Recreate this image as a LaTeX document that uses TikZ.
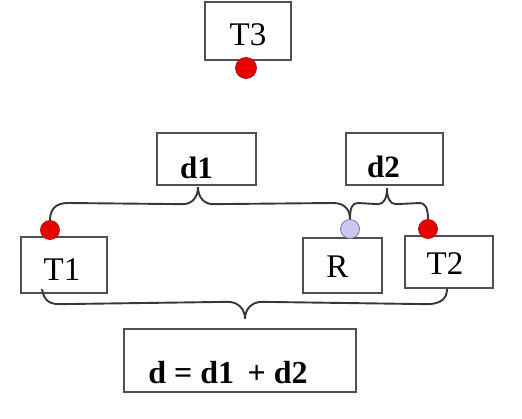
\documentclass[tikz,border=0pt]{standalone}
\usepackage{fontspec}
\setmainfont{Liberation Serif}
\usetikzlibrary{calc}
\definecolor{boxline}{RGB}{80,80,80}
\definecolor{conline}{RGB}{55,55,55}
\definecolor{reddot}{RGB}{232,0,0}
\definecolor{reddotline}{RGB}{170,20,20}
\definecolor{bluedot}{RGB}{200,200,240}
\definecolor{bluedotline}{RGB}{120,120,150}
\begin{document}
\begin{tikzpicture}[x=1pt,y=1pt,
  box/.style={draw=boxline, line width=2.3pt, fill=white, rectangle, inner sep=0pt},
  lbl/.style={font=\fontsize{33}{39}\selectfont, inner sep=0pt},
  blbl/.style={font=\fontsize{31}{37}\selectfont\bfseries, inner sep=0pt},
  conn/.style={draw=conline, line width=1.9pt},
  rdot/.style={circle, fill=reddot, draw=reddotline, line width=0.8pt, minimum size=19pt, inner sep=0pt},
  bdot/.style={circle, fill=bluedot, draw=bluedotline, line width=0.8pt, minimum size=19pt, inner sep=0pt}]
\useasboundingbox (0,0) rectangle (522,418);

% boxes
\node[box, minimum width=86pt, minimum height=58pt,
  label={[lbl, yshift=-4pt]center:T3}] (T3) at (248,387) {};
\node[box, minimum width=99pt, minimum height=52pt,
  label={[blbl, xshift=-10pt, yshift=-9pt]center:d1}] (d1) at (206.5,259) {};
\node[box, minimum width=97pt, minimum height=52pt,
  label={[blbl, xshift=-11pt, yshift=-8pt]center:d2}] (d2) at (394.5,259) {};
\node[box, minimum width=86pt, minimum height=56pt,
  label={[lbl, xshift=-2pt, yshift=-5pt]center:T1}] (T1) at (64,153) {};
\node[box, minimum width=79pt, minimum height=55pt,
  label={[lbl, xshift=-5pt, yshift=-1pt]center:R}] (R) at (342.5,152.5) {};
\node[box, minimum width=88pt, minimum height=52pt,
  label={[lbl, xshift=-4pt, yshift=-2pt]center:T2}] (T2) at (449,156) {};
\node[box, minimum width=232pt, minimum height=63pt,
  label={[blbl, font=\fontsize{32}{38}\selectfont\bfseries, xshift=-12pt, yshift=-12pt]center:d = d1 \,+ d2}] (D) at (240,57.5) {};

% dots
\node[rdot, minimum size=21pt] (dT3) at (246,350) {};
\node[rdot] (dT1) at (50,188) {};
\node[bdot] (dR) at (350,189) {};
\node[rdot] (dT2) at (428,189) {};

% brace tips and ends
\coordinate (tip1) at ($(d1.south)+(-8.5,-1)$);
\coordinate (tip2) at ($(d2.south)+(-7.5,-2)$);
\coordinate (tip3) at ($(D.north)+(5,9)$);
\coordinate (b1) at ($(T1.south)+(-22,5)$);
\coordinate (b2) at ($(T2.south)+(-2,0)$);

% brace d1: T1 -- R
\draw[conn] (dT1.north)
  .. controls (50,209) and (56,215) .. (68,215)
  -- ($(tip1)+(-15,-17)$)
  .. controls ($(tip1)+(-6,-17)$) and ($(tip1)+(0,-10)$) .. (tip1)
  .. controls ($(tip1)+(0,-10)$) and ($(tip1)+(6,-17)$) .. ($(tip1)+(15,-17)$)
  -- (333,215)
  .. controls (344,215) and (350,209) .. (dR.north);

% brace d2: R -- T2
\draw[conn] (dR.north)
  .. controls (350,210) and (352,215) .. (358,215)
  -- ($(tip2)+(-9,-16)$)
  .. controls ($(tip2)+(-3,-16)$) and ($(tip2)+(0,-10)$) .. (tip2)
  .. controls ($(tip2)+(0,-10)$) and ($(tip2)+(3,-16)$) .. ($(tip2)+(9,-16)$)
  -- (420,215)
  .. controls (425,215) and (428,210) .. (dT2.north);

% bottom brace: T1 -- T2
\draw[conn] (b1)
  .. controls ($(b1)+(2,-12)$) and ($(b1)+(8,-15)$) .. ($(b1)+(18,-15)$)
  -- ($(tip3)+(-17,17)$)
  .. controls ($(tip3)+(-7,17)$) and ($(tip3)+(0,10)$) .. (tip3)
  .. controls ($(tip3)+(0,10)$) and ($(tip3)+(7,17)$) .. ($(tip3)+(17,17)$)
  -- ($(b2)+(-20,-15)$)
  .. controls ($(b2)+(-7,-15)$) and ($(b2)+(0,-10)$) .. (b2);
\end{tikzpicture}
\end{document}
